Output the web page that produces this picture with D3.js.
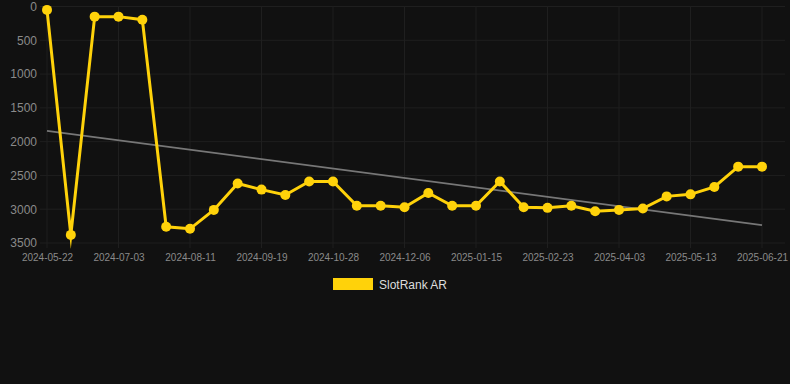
<!DOCTYPE html>
<html>
<head>
<meta charset="utf-8">
<script src="https://cdn.jsdelivr.net/npm/d3@7"></script>
<style>
  html,body{margin:0;padding:0;background:#111111;}
  svg{display:block;font-family:"Liberation Sans",Arial,sans-serif;}
</style>
</head>
<body>
<div id="chart"></div>
<script>
const dates=["2024-05-22","2024-06-05","2024-06-19","2024-07-03","2024-07-16","2024-07-29","2024-08-11",
  "2024-08-24","2024-09-06","2024-09-19","2024-10-02","2024-10-15","2024-10-28","2024-11-10","2024-11-23",
  "2024-12-06","2024-12-19","2025-01-01","2025-01-15","2025-01-28","2025-02-10","2025-02-23","2025-03-08",
  "2025-03-21","2025-04-03","2025-04-16","2025-04-29","2025-05-13","2025-05-26","2025-06-08","2025-06-21"];
const ranks=[50,3380,150,150,195,3260,3290,3010,2620,2710,2790,2590,2590,2950,2950,2970,
  2760,2950,2950,2590,2970,2980,2950,3030,3010,2990,2810,2780,2670,2370,2370];
const trend=[1840,3235];
const yTicks=[0,500,1000,1500,2000,2500,3000,3500];
const seriesName="SlotRank AR";

const w=790,h=384;
const plotLeft=40,plotRight=785,plotTop=6.5,plotBottom=243;

const svg=d3.select("#chart").append("svg").attr("width",w).attr("height",h);

const x=d3.scalePoint().domain(dates).range([47,762]);
const y=d3.scaleLinear().domain([0,3500]).range([plotTop,plotBottom]);
const labelDates=dates.filter((d,i)=>i%3===0);

// grid
svg.append("g").selectAll("line").data(yTicks).enter().append("line")
  .attr("x1",plotLeft).attr("x2",plotRight)
  .attr("y1",d=>y(d)).attr("y2",d=>y(d))
  .attr("stroke","#1f1f1f").attr("stroke-width",1);
svg.append("g").selectAll("line").data(labelDates).enter().append("line")
  .attr("x1",d=>x(d)).attr("x2",d=>x(d))
  .attr("y1",plotTop).attr("y2",plotBottom+5)
  .attr("stroke","#1f1f1f").attr("stroke-width",1);

// y axis
const yAxis=svg.append("g").attr("transform",`translate(${plotLeft},0)`)
  .call(d3.axisLeft(y).tickValues(yTicks).tickFormat(d3.format("d")).tickSize(0).tickPadding(3));
yAxis.select(".domain").remove();
yAxis.selectAll("text").attr("fill","#8a8a8a").style("font-size","12px");

// x axis
const xAxis=svg.append("g").attr("transform",`translate(0,${plotBottom})`)
  .call(d3.axisBottom(x).tickValues(labelDates).tickSize(0).tickPadding(11));
xAxis.select(".domain").remove();
xAxis.selectAll("text").attr("fill","#8a8a8a").style("font-size","10px");

// trend
svg.append("line")
  .attr("x1",x(dates[0])).attr("x2",x(dates[dates.length-1]))
  .attr("y1",y(trend[0])).attr("y2",y(trend[1]))
  .attr("stroke","#777777").attr("stroke-width",1.8);

// series
const line=d3.line().x((d,i)=>x(dates[i])).y(d=>y(d));
svg.append("path").datum(ranks)
  .attr("d",line).attr("fill","none")
  .attr("stroke","#ffd20a").attr("stroke-width",3)
  .attr("stroke-linejoin","miter").attr("stroke-miterlimit",10);
svg.append("g").selectAll("circle").data(ranks).enter().append("circle")
  .attr("cx",(d,i)=>x(dates[i])).attr("cy",d=>y(d)).attr("r",5)
  .attr("fill","#ffd20a");

// legend
const lg=svg.append("g").attr("transform","translate(333,278)");
lg.append("rect").attr("width",40).attr("height",12).attr("fill","#ffd20a");
lg.append("text").attr("x",46).attr("y",10.5).text(seriesName)
  .attr("fill","#dddddd").style("font-size","12px");
</script>
</body>
</html>
